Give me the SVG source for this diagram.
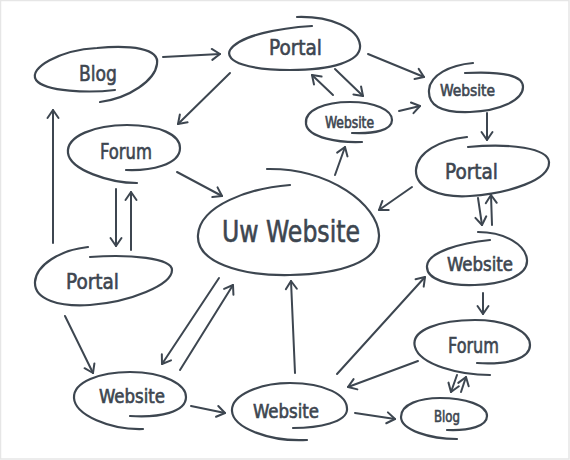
<svg xmlns="http://www.w3.org/2000/svg" width="570" height="460" viewBox="0 0 570 460">
<defs>
<marker id="ah" markerUnits="userSpaceOnUse" markerWidth="14" markerHeight="14" viewBox="-10 -7 14 14" refX="0" refY="0" orient="auto" overflow="visible">
<path d="M-8,-5.5 L0,0 L-8,5.5" fill="none" stroke="#3d4650" stroke-width="2" stroke-linecap="round" stroke-linejoin="round"/>
</marker>
</defs>
<style>
.n{fill:none;stroke:#3d4650;stroke-width:2.2;stroke-linecap:round;stroke-linejoin:round}
.c path{fill:none;stroke:#3d4650;stroke-width:2;stroke-linecap:round;marker-end:url(#ah)}
text{font-family:"DejaVu Sans Condensed","DejaVu Sans",sans-serif;font-stretch:condensed;fill:#3d4650;stroke:#3d4650;stroke-width:0.6;font-weight:normal}
</style>
<rect x="0.5" y="0.5" width="568.5" height="458.5" fill="#ffffff" stroke="#e6e6e6" stroke-width="1.5"/>
<g id="blog1"><path class="n" d="M115,90 C90,93 45,92 36,80 C28,68 60,50 97,48 C130,45 160,48 157,64 C155,80 130,98 100,102"/><text x="79" y="81" font-size="22" textLength="38" lengthAdjust="spacingAndGlyphs">Blog</text></g>
<g id="portal1"><path class="n" d="M312,26 C280,28 240,35 230,50 C224,62 250,70 290,70 C330,70 362,62 360,45 C358,28 330,16 297,17"/><text x="269" y="55" font-size="22" textLength="53" lengthAdjust="spacingAndGlyphs">Portal</text></g>
<g id="website1"><path class="n" d="M362,142 C340,143 308,138 306,124 C304,110 325,102 350,102 C375,102 392,110 392,120 C392,130 375,134 352,133"/><text x="325" y="128" font-size="15" textLength="49" lengthAdjust="spacingAndGlyphs">Website</text></g>
<g id="website2"><path class="n" d="M473,63 C450,65 430,75 429,90 C428,105 440,113 470,112 C500,111 523,100 523,87 C523,76 505,71 465,73"/><text x="440" y="96" font-size="16" textLength="55" lengthAdjust="spacingAndGlyphs">Website</text></g>
<g id="portal2"><path class="n" d="M467,137 C440,140 417,152 416,170 C415,188 440,198 470,196 C510,193 550,180 549,162 C548,148 510,143 468,147"/><text x="445" y="179" font-size="22" textLength="53" lengthAdjust="spacingAndGlyphs">Portal</text></g>
<g id="main"><path class="n" d="M290,185 C250,188 200,205 198,235 C196,262 240,276 290,275 C340,274 380,262 379,235 C378,205 330,168 267,169"/><text x="222" y="242" font-size="30" textLength="138" lengthAdjust="spacingAndGlyphs">Uw Website</text></g>
<g id="forum1"><path class="n" d="M137,183 C110,183 70,170 68,153 C66,136 95,125 127,125 C160,125 180,135 180,148 C180,165 150,171 126,170"/><text x="100" y="159" font-size="21" textLength="52" lengthAdjust="spacingAndGlyphs">Forum</text></g>
<g id="portal3"><path class="n" d="M88,247 C60,250 36,265 35,282 C34,300 60,307 90,305 C130,302 172,285 172,270 C172,258 130,254 90,257"/><text x="66" y="289" font-size="22" textLength="53" lengthAdjust="spacingAndGlyphs">Portal</text></g>
<g id="website3"><path class="n" d="M143,429 C110,430 75,415 74,398 C73,382 100,372 130,372 C165,372 186,385 186,397 C186,412 160,418 130,416"/><text x="99" y="403" font-size="19" textLength="66" lengthAdjust="spacingAndGlyphs">Website</text></g>
<g id="website4"><path class="n" d="M307,440 C270,442 233,428 232,411 C231,395 260,383 290,383 C325,383 348,395 347,410 C346,422 320,428 293,428"/><text x="253" y="418" font-size="19" textLength="66" lengthAdjust="spacingAndGlyphs">Website</text></g>
<g id="website5"><path class="n" d="M490,240 C460,243 428,252 427,266 C426,280 450,286 475,285 C505,284 528,275 527,260 C526,245 505,232 478,232"/><text x="447" y="271" font-size="19" textLength="66" lengthAdjust="spacingAndGlyphs">Website</text></g>
<g id="forum2"><path class="n" d="M490,375 C460,375 420,365 415,347 C410,330 440,320 475,320 C510,320 530,333 530,345 C530,358 510,365 477,363"/><text x="448" y="353" font-size="21" textLength="51" lengthAdjust="spacingAndGlyphs">Forum</text></g>
<g id="blog2"><path class="n" d="M457,439 C430,439 401,430 401,417 C401,404 420,398 440,398 C465,398 487,405 487,416 C487,426 470,431 447,430"/><text x="434" y="422" font-size="15" textLength="26" lengthAdjust="spacingAndGlyphs">Blog</text></g>
<g id="connectors" class="c">
<path d="M163,57 L220,54"/>
<path d="M230,73 L178,124"/>
<path d="M177,172 L222,196"/>
<path d="M53,243 L53,110"/>
<path d="M116,189 L116,246"/>
<path d="M131,250 L131,192"/>
<path d="M65,316 L93,373"/>
<path d="M219,278 L162,364"/>
<path d="M180,370 L233,285"/>
<path d="M191,406 L225,413"/>
<path d="M295,373 L291,281"/>
<path d="M337,374 L425,277"/>
<path d="M355,413 L395,419"/>
<path d="M418,361 L348,387"/>
<path d="M457,375 L451,392"/>
<path d="M461,392 L466,377"/>
<path d="M483,293 L483,314"/>
<path d="M478,198 L482,225"/>
<path d="M492,225 L491,195"/>
<path d="M412,187 L379,210"/>
<path d="M335,175 L345,147"/>
<path d="M333,95 L312,75"/>
<path d="M335,69 L363,96"/>
<path d="M368,54 L424,77"/>
<path d="M399,111 L420,106"/>
<path d="M487,113 L487,140"/>
</g>
</svg>
